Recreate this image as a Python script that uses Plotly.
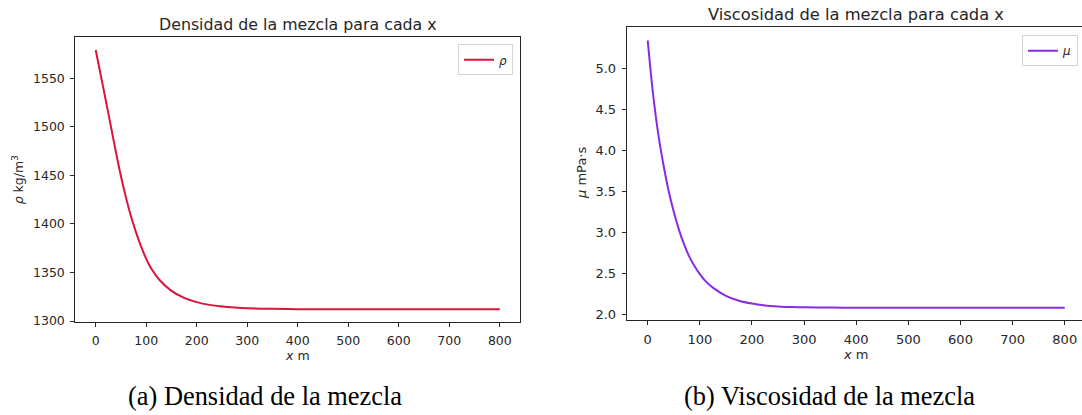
import plotly.graph_objects as go

# Density of the mixture along x (kg/m^3)
x_rho = [0, 10, 20, 30, 40, 50, 60, 70, 80, 90, 100, 110, 125, 150, 175,
         200, 225, 250, 275, 300, 350, 400, 500, 600, 700, 800]
rho = [1579, 1553, 1527, 1500.5, 1474, 1449, 1427, 1407.5, 1391, 1376.5, 1364,
       1354, 1343, 1331, 1323.8, 1319.4, 1316.6, 1314.9, 1313.8, 1313.1,
       1312.5, 1312.2, 1312, 1312, 1312, 1312]

# Viscosity of the mixture along x (mPa·s)
x_mu = [0, 10, 20, 30, 40, 50, 60, 70, 80, 90, 100, 110, 125, 150, 175, 200,
        225, 250, 275, 300, 350, 400, 500, 600, 700, 800]
mu = [5.34, 4.70, 4.21, 3.83, 3.51, 3.25, 3.03, 2.85, 2.70, 2.585, 2.49, 2.41,
      2.325, 2.225, 2.165, 2.13, 2.108, 2.096, 2.089, 2.085, 2.082, 2.08,
      2.08, 2.08, 2.08, 2.08]

x_ticks = [0, 100, 200, 300, 400, 500, 600, 700, 800]
rho_ticks = [1300, 1350, 1400, 1450, 1500, 1550]
mu_ticks = [2.0, 2.5, 3.0, 3.5, 4.0, 4.5, 5.0]

W, H = 1082, 415
INK = "#262626"
FONT = "DejaVu Sans"

fig = go.Figure()
fig.add_trace(go.Scatter(
    x=x_rho, y=rho, mode="lines", name="<i>ρ</i>",
    line=dict(color="#DC143C", width=2, shape="spline", smoothing=0.8),
    xaxis="x", yaxis="y", legend="legend",
))
fig.add_trace(go.Scatter(
    x=x_mu, y=mu, mode="lines", name="<i>μ</i>",
    line=dict(color="#8A2BE2", width=2, shape="spline", smoothing=0.8),
    xaxis="x2", yaxis="y2", legend="legend2",
))


def axis_style(size):
    return dict(
        showline=True, linecolor=INK, linewidth=1,
        ticks="outside", ticklen=4, tickwidth=1, tickcolor=INK,
        showgrid=False, zeroline=False,
        tickfont=dict(family=FONT, size=size, color=INK),
        ticklabelstandoff=3,
    )


legend_common = dict(
    xanchor="right", yanchor="top",
    bordercolor="#d4d4d4", borderwidth=1,
    bgcolor="rgba(255,255,255,0.8)",
    font=dict(family=FONT, size=12, color=INK),
)

fig.update_layout(
    width=W, height=H,
    margin=dict(l=0, r=0, t=0, b=0),
    paper_bgcolor="white", plot_bgcolor="white",
    xaxis=dict(domain=[75.3 / W, 520 / W], anchor="y", range=[-40.4, 840],
               tickvals=x_ticks, mirror=True, **axis_style(12.5)),
    yaxis=dict(domain=[(H - 326.7) / H, (H - 37.3) / H], anchor="x",
               range=[1299.0, 1592.6], tickvals=rho_ticks, mirror=True,
               **axis_style(12.5)),
    xaxis2=dict(domain=[626.7 / W, 1.0], anchor="y2", range=[-40.3, 833.1],
                tickvals=x_ticks, mirror=True, **axis_style(13)),
    yaxis2=dict(domain=[(H - 324.7) / H, (H - 27.3) / H], anchor="x2",
                range=[1.93, 5.505], tickvals=mu_ticks, tickformat=".1f",
                mirror=False, **axis_style(13)),
    legend=dict(x=513 / W, y=(H - 45) / H, **legend_common),
    legend2=dict(x=1078 / W, y=(H - 35.7) / H, **legend_common),
    showlegend=True,
)


def label(text, x, y, size, angle=0, family=FONT, color=INK):
    fig.add_annotation(
        text=text, x=x / W, y=(H - y) / H, xref="paper", yref="paper",
        xanchor="center", yanchor="middle", showarrow=False,
        textangle=angle, font=dict(family=family, size=size, color=color),
    )


# Panel titles
label("Densidad de la mezcla para cada x", 297.5, 25, 15.8)
label("Viscosidad de la mezcla para cada x", 856, 15, 16.3)

# Axis titles
label("<i>x</i> m", 297.5, 361, 12.5)
label("<i>x</i> m", 856, 360, 13)
label("<i>ρ</i> kg/m<sup>3</sup>", 18, 183, 12.5, angle=-90)
label("<i>μ</i> mPa·s", 581.5, 176, 13, angle=-90)

# Sub-figure captions
label("(a) Densidad de la mezcla", 264.8, 402, 26.4,
      family="Liberation Serif", color="black")
label("(b) Viscosidad de la mezcla", 829.5, 402, 26.4,
      family="Liberation Serif", color="black")

fig.write_html("out.html", config={"displayModeBar": False})
